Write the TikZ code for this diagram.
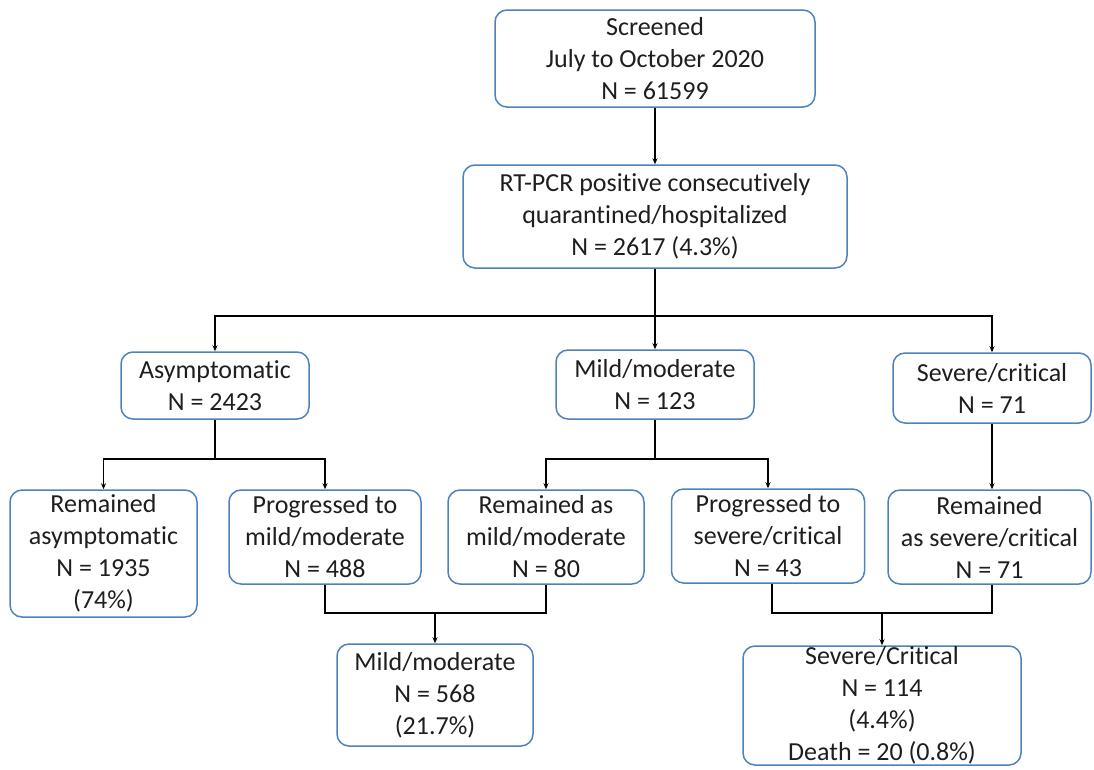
\documentclass[tikz,border=0pt]{standalone}
\usepackage{fontspec}
\setmainfont[Ligatures={NoCommon,NoContextual},Contextuals=NoAlternate]{Carlito}
\usetikzlibrary{arrows.meta,calc}
\definecolor{boxblue}{RGB}{79,129,189}
\definecolor{txt}{RGB}{30,30,30}
\tikzset{
  fbox/.style={draw=boxblue, line width=1.5pt, rounded corners=12pt, rectangle,
    align=center, inner sep=0pt, text=txt, font=\fontsize{26}{32}\selectfont},
  conn/.style={draw=black, line width=1.2pt},
  arr/.style={conn, -{Stealth[length=6pt,width=5pt]}}
}
\begin{document}
\begin{tikzpicture}[x=1pt,y=-1pt]
\useasboundingbox (0,0) rectangle (1094,769);
\node[fbox, minimum width=320pt, minimum height=97pt] (scr) at (655,58.5) {Screened\\July to October 2020\\N = 61599};
\node[fbox, minimum width=384pt, minimum height=103pt] (rt) at (655,216.5) {RT-PCR posi{}tive consecu{}tively\\quaran{}tined/hospitalized\\N = 2617 (4.3\%)};
\node[fbox, minimum width=188pt, minimum height=67pt] (asy) at (215,385.5) {Asymptoma{}tic\\N = 2423};
\node[fbox, minimum width=198pt, minimum height=69pt] (mild) at (655,384.5) {Mild/moderate\\N = 123};
\node[fbox, minimum width=198pt, minimum height=70pt] (sev) at (992,388) {Severe/cri{}tical\\N = 71};
\node[fbox, minimum width=187pt, minimum height=127pt] (ra) at (103.5,553.5) {Remained\\asymptoma{}tic\\N = 1935\\(74\%)};
\node[fbox, minimum width=192pt, minimum height=94pt] (pm) at (325,537) {Progressed to\\mild/moderate\\N = 488};
\node[fbox, minimum width=196pt, minimum height=94pt] (rm) at (546,537) {Remained as\\mild/moderate\\N = 80};
\node[fbox, minimum width=193pt, minimum height=94pt] (ps) at (768,536) {Progressed to\\severe/cri{}tical\\N = 43};
\node[fbox, minimum width=203pt, minimum height=94pt] (rs) at (989.5,537) {Remained\\as severe/cri{}tical\\N = 71};
\node[fbox, minimum width=196pt, minimum height=102pt] (fm) at (435,695) {Mild/moderate\\N = 568\\(21.7\%)};
\node[fbox, minimum width=278pt, minimum height=119pt] (fs) at (882,705.5) {Severe/Cri{}tical\\N = 114\\(4.4\%)\\Death = 20 (0.8\%)};

\coordinate (j1) at (655,316);
\coordinate (j2) at (215,459);
\coordinate (j3) at (655,459);
\coordinate (j4) at (435,613);
\coordinate (j5) at (882,613);

\draw[arr] (scr.south) -- (rt.north);
\draw[conn] (rt.south) -- (j1);
\draw[arr] (j1) -| (asy.north);
\draw[arr] (j1) -| (sev.north);
\draw[arr] (j1) -- (mild.north);

\draw[conn] (asy.south) -- (j2);
\draw[arr] (j2) -| (ra.north);
\draw[arr] (j2) -| (pm.north);

\draw[conn] (mild.south) -- (j3);
\draw[arr] (j3) -| (rm.north);
\draw[arr] (j3) -| (ps.north);

\draw[arr] (sev.south) -- (sev.south |- rs.north);

\draw[conn] (pm.south) |- (j4) -| (rm.south);
\draw[arr] (j4) -- (fm.north);

\draw[conn] ([xshift=4pt]ps.south) |- (j5) -| ([xshift=2.5pt]rs.south);
\draw[arr] (j5) -- (fs.north);
\end{tikzpicture}
\end{document}
